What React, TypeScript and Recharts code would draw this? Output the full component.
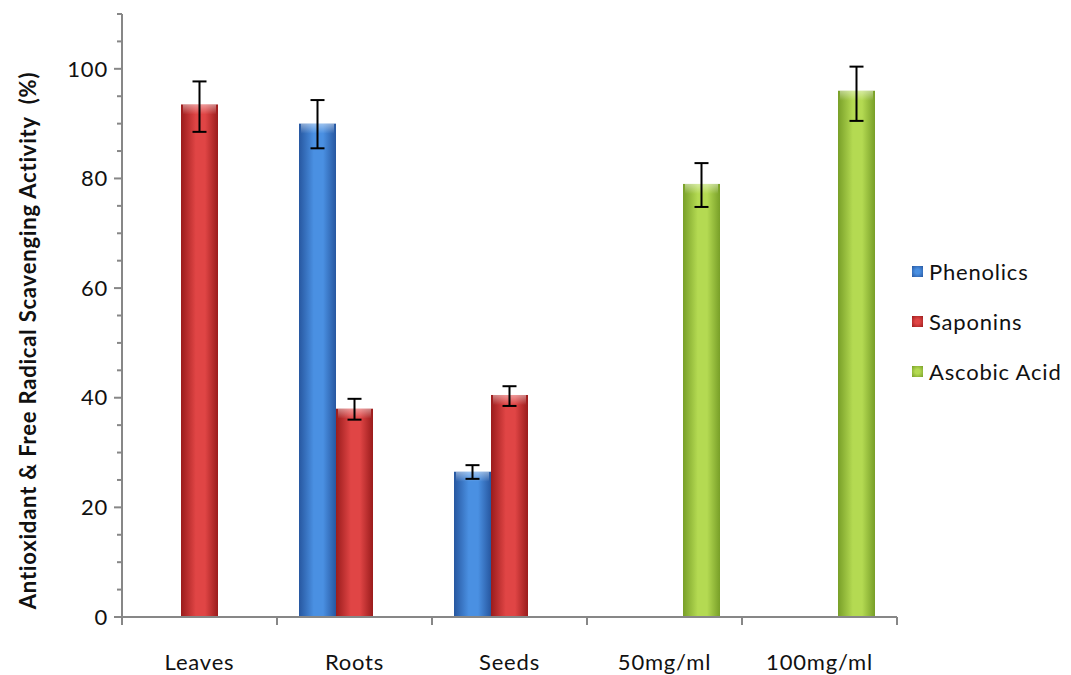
import React from 'react';
import { BarChart, Bar, XAxis, YAxis, ErrorBar, Legend } from 'recharts';

// values
const categories = ['Leaves', 'Roots', 'Seeds', '50mg/ml', '100mg/ml'];
const phenolics = [null, 90, 26.5, null, null];
const phenolicsErr = [null, [4.5, 4.3], [1.3, 1.2], null, null];
const saponins = [93.5, 38, 40.5, null, null];
const saponinsErr = [[5, 4.2], [2, 1.8], [2, 1.6], null, null];
const ascorbic = [null, null, null, 79, 96];
const ascorbicErr = [null, null, null, [4.2, 3.8], [5.5, 4.4]];
const yTicks = [0, 5, 10, 15, 20, 25, 30, 35, 40, 45, 50, 55, 60, 65, 70, 75, 80, 85, 90, 95, 100, 105, 110];
const yLabelTicks = [0, 20, 40, 60, 80, 100];

const series = [
    { key: 'phenolics', err: 'phenolicsErr', name: 'Phenolics', edge: '#2757a0', mid: '#4a90e2' },
    { key: 'saponins', err: 'saponinsErr', name: 'Saponins', edge: '#9a1c1c', mid: '#e04545' },
    { key: 'ascorbic', err: 'ascorbicErr', name: 'Ascobic Acid', edge: '#789f28', mid: '#b4da52' },
];

const data = categories.map((name, i) => ({
    name,
    phenolics: phenolics[i],
    phenolicsErr: phenolicsErr[i],
    saponins: saponins[i],
    saponinsErr: saponinsErr[i],
    ascorbic: ascorbic[i],
    ascorbicErr: ascorbicErr[i],
}));

const FONT = 'Lato, "Open Sans", sans-serif';
const AXIS = '#878787';
const LEGEND_W = 160;

const BarShape = (props: any) => {
    const { x, y, width, height, value, gradId } = props;
    if (value == null || !height || height <= 0) return null;
    return (
        <g>
            <rect x={x} y={y} width={width} height={height} fill={`url(#${gradId})`} />
            <rect x={x + 2} y={y} width={width - 4} height={Math.min(10, height)} fill="url(#topShine)" />
        </g>
    );
};

const YTick = (props: any) => {
    const { x, y, payload } = props;
    const major = yLabelTicks.includes(payload.value);
    return (
        <g>
            <line x1={x - (major ? 8 : 5)} x2={x} y1={y} y2={y} stroke={AXIS} strokeWidth={2} />
            {major && (
                <text x={x - 14} y={y} dy="0.35em" textAnchor="end" fontSize={22} letterSpacing={0.8} fill="#111" fontFamily={FONT}>
                    {payload.value}
                </text>
            )}
        </g>
    );
};

const XTick = (props: any) => {
    const { x, y, payload, index, width, visibleTicksCount } = props;
    const band = width / visibleTicksCount;
    const last = index === visibleTicksCount - 1;
    return (
        <g>
            <line x1={x - band / 2} x2={x - band / 2} y1={y} y2={y + 8} stroke={AXIS} strokeWidth={2} />
            {last && <line x1={x + band / 2} x2={x + band / 2} y1={y} y2={y + 8} stroke={AXIS} strokeWidth={2} />}
            <text x={x} y={y + 45} dy="0.35em" textAnchor="middle" fontSize={22} letterSpacing={0.8} fill="#111" fontFamily={FONT}>
                {payload.value}
            </text>
        </g>
    );
};

const LegendContent = () => (
    <div style={{ fontFamily: FONT, fontSize: 22, letterSpacing: 0.8, color: '#111' }}>
        {series.map((s) => (
            <div key={s.key} style={{ display: 'flex', alignItems: 'center', height: 50 }}>
                <div
                    style={{
                        width: 11,
                        height: 11,
                        marginRight: 6,
                        background: `radial-gradient(circle, ${s.mid} 30%, ${s.edge} 100%)`,
                    }}
                />
                <span>{s.name}</span>
            </div>
        ))}
    </div>
);

const YLabel = (props: any) => {
    const { viewBox } = props;
    const cx = viewBox.x + 25;
    const cy = viewBox.y + viewBox.height / 2 + 25;
    return (
        <text
            x={cx}
            y={cy}
            transform={`rotate(-90, ${cx}, ${cy})`}
            textAnchor="middle"
            dominantBaseline="central"
            fontSize={22}
            letterSpacing={0.8}
            fontWeight="bold"
            fill="#111"
            fontFamily={FONT}
        >
            Antioxidant &amp; Free Radical Scavenging Activity&nbsp; (%)
        </text>
    );
};

export default function App() {
    return (
        <div style={{ position: 'absolute', left: 0, top: 0, width: 1071, height: 675, background: '#fff' }}>
            <BarChart
                width={1071}
                height={675}
                data={data}
                margin={{ top: 14, right: 174 - LEGEND_W, left: 2, bottom: 0 }}
                barGap={0}
                barSize={37}
            >
                <defs>
                    {series.map((s) => (
                        <linearGradient key={s.key} id={`grad-${s.key}`} x1="0" y1="0" x2="1" y2="0">
                            <stop offset="0%" stopColor={s.edge} />
                            <stop offset="40%" stopColor={s.mid} />
                            <stop offset="65%" stopColor={s.mid} />
                            <stop offset="100%" stopColor={s.edge} />
                        </linearGradient>
                    ))}
                    <linearGradient id="topShine" x1="0" y1="0" x2="0" y2="1">
                        <stop offset="0%" stopColor="#ffffff" stopOpacity={0.45} />
                        <stop offset="100%" stopColor="#ffffff" stopOpacity={0} />
                    </linearGradient>
                </defs>
                <XAxis
                    dataKey="name"
                    height={58}
                    axisLine={{ stroke: AXIS, strokeWidth: 2 }}
                    tickLine={false}
                    tickSize={0}
                    tickMargin={0}
                    tick={<XTick />}
                    interval={0}
                />
                <YAxis
                    width={120}
                    domain={[0, 110]}
                    ticks={yTicks}
                    interval={0}
                    axisLine={{ stroke: AXIS, strokeWidth: 2 }}
                    tickLine={false}
                    tickSize={0}
                    tickMargin={0}
                    tick={<YTick />}
                    label={<YLabel />}
                />
                <Legend
                    layout="vertical"
                    align="right"
                    verticalAlign="top"
                    content={<LegendContent />}
                    wrapperStyle={{ left: 912, top: 246, width: LEGEND_W }}
                />
                {series.map((s) => (
                    <Bar
                        key={s.key}
                        dataKey={s.key}
                        name={s.name}
                        fill={s.mid}
                        isAnimationActive={false}
                        shape={(p: any) => <BarShape {...p} gradId={`grad-${s.key}`} />}
                    >
                        <ErrorBar dataKey={s.err} width={7} stroke="#000" strokeWidth={2} />
                    </Bar>
                ))}
            </BarChart>
        </div>
    );
}
